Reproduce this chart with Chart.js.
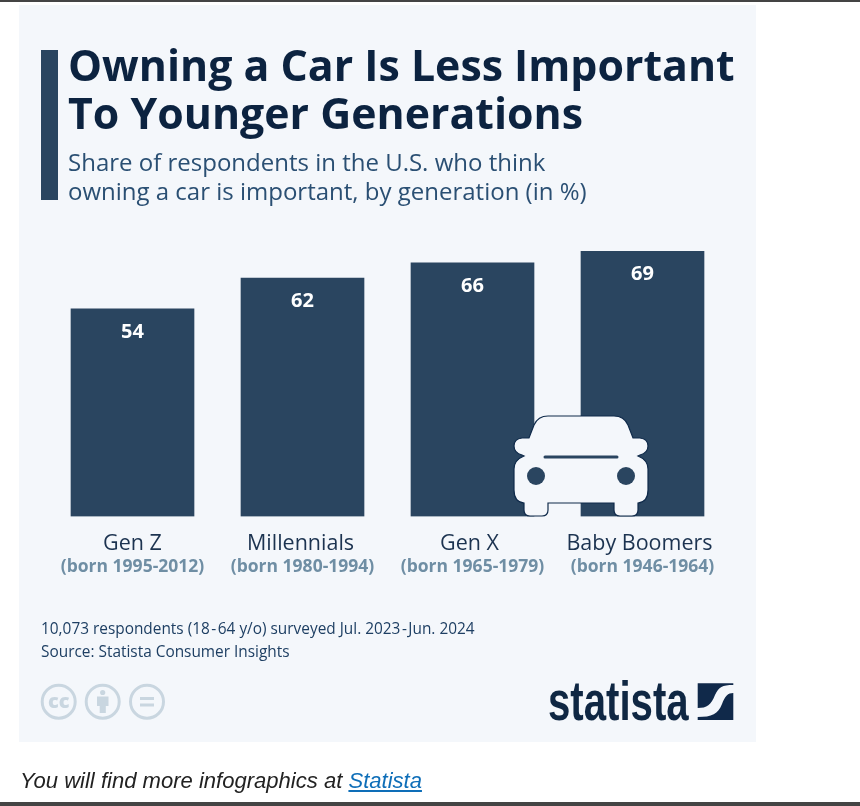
<!DOCTYPE html>
<html><head><meta charset="utf-8">
<script src="https://cdn.jsdelivr.net/npm/chart.js@4/dist/chart.umd.min.js"></script>
<style>
html,body{margin:0;padding:0;background:#fff;width:860px;height:806px;overflow:hidden}
.a{position:absolute;white-space:nowrap}
body{font-family:"Open Sans",sans-serif}
#topline{left:0;top:0;width:860px;height:2px;background:#444}
#botline{left:0;top:802px;width:860px;height:4px;background:#444}
#panel{left:19px;top:5px;width:737px;height:737px;background:#f4f7fb}
#chart{position:absolute;left:0;top:0}
#accent{left:41px;top:50px;width:17px;height:150px;background:#2a4560}
.t{left:68px;font-weight:700;font-size:42.85px;line-height:48px;color:#0c2340}
.s{left:68px;font-size:24px;line-height:29px;color:#2a4f73}
.n{left:41px;font-size:15.4px;line-height:23px;color:#1e3f63}
.n span{margin:0 1.5px}
#foot{left:20px;top:768px;font:italic 22.05px/26px "Liberation Sans",sans-serif;color:#222}
#foot a{color:#0e6eb8;text-decoration:underline}
#logo{left:548px;top:669px;font:700 55px/64px "Liberation Sans",sans-serif;color:#0f2743;transform:scaleX(.73);transform-origin:left top}
svg{position:absolute;left:0;top:0}
</style></head><body>
<div class="a" id="topline"></div>
<div class="a" id="panel"></div>
<canvas id="chart" width="860" height="806"></canvas>
<div class="a" id="accent"></div>
<div class="a t" style="top:41px">Owning a Car Is Less Important</div>
<div class="a t" style="top:89px">To Younger Generations</div>
<div class="a s" style="top:147px">Share of respondents in the U.S. who think</div>
<div class="a s" style="top:176px">owning a car is important, by generation (in %)</div>
<div class="a n" style="top:617px">10,073 respondents (18<span>-</span>64 y/o) surveyed Jul. 2023<span>-</span>Jun. 2024</div>
<div class="a n" style="top:640px">Source: Statista Consumer Insights</div>
<div class="a" id="logo">statista</div>
<svg width="860" height="806" viewBox="0 0 860 806">
  <path d="M548 416H614Q624 416 628 425L633 438H640Q648 439 648 446Q648 453 640 455L638 456Q648 460 648 469V490Q648 502 638 503V510Q638 516 632 516H620Q614 516 614 510V503H548V510Q548 516 542 516H530Q524 516 524 510V503Q514 502 514 490V469Q514 460 524 456L522 455Q514 453 514 446Q514 439 522 438H529L534 425Q538 416 548 416Z" fill="#f4f7fb" stroke="#0f2a4a" stroke-width="1.2"/>
  <line x1="545" y1="457" x2="617" y2="457" stroke="#2a4560" stroke-width="3" stroke-linecap="round"/>
  <circle cx="536" cy="476" r="9" fill="#2a4560"/><circle cx="626" cy="476" r="9" fill="#2a4560"/>
  <g fill="none" stroke="#c9d6e0" stroke-width="3">
    <circle cx="58.7" cy="701.7" r="16.5"/><circle cx="102.7" cy="701.7" r="16.5"/><circle cx="147" cy="701.7" r="16.5"/>
  </g>
  <text x="58.7" y="707.5" text-anchor="middle" font-family="Open Sans" font-weight="800" font-size="20" fill="#c9d6e0">cc</text>
  <circle cx="102.7" cy="692.5" r="2.6" fill="#c9d6e0"/>
  <path d="M97 696.5H108.5V706H105.8V713H99.7V706H97Z" fill="#c9d6e0"/>
  <rect x="140" y="697" width="14" height="3" fill="#c9d6e0"/><rect x="140" y="703.5" width="14" height="3" fill="#c9d6e0"/>
  <path d="M697.7 683.3H733.3V685C722 685 719 687 715 695C711 705 707 708 697.7 708Z" fill="#10294a"/>
  <path d="M733.3 693V720H697.7V717C712 717 718 714 722 704C725 696 728 693 733.3 693Z" fill="#10294a"/>
</svg>
<div class="a" id="foot">You will find more infographics at <a href="#">Statista</a></div>
<div class="a" id="botline"></div>
<script>
const generations = ["Gen Z", "Millennials", "Gen X", "Baby Boomers"];
const birthYears = ["(born 1995-2012)", "(born 1980-1994)", "(born 1965-1979)", "(born 1946-1964)"];
const shareImportant = [54, 62, 66, 69];

const valueLabels = {
  id: "valueLabels",
  afterDatasetsDraw(chart) {
    const { ctx } = chart;
    ctx.save();
    ctx.font = '700 20px "Open Sans"';
    ctx.fillStyle = "#ffffff";
    ctx.textAlign = "center";
    ctx.textBaseline = "middle";
    chart.getDatasetMeta(0).data.forEach((bar, i) => {
      ctx.fillText(String(shareImportant[i]), bar.x, bar.y + 23);
    });
    ctx.restore();
  }
};

new Chart(document.getElementById("chart"), {
  type: "bar",
  data: {
    labels: generations,
    datasets: [{ data: shareImportant, backgroundColor: "#2a4560", borderWidth: 0, barThickness: 123 }]
  },
  options: {
    responsive: false,
    animation: false,
    layout: { padding: { left: 47.5, right: 132.5, top: 209, bottom: 229 } },
    plugins: { legend: { display: false }, tooltip: { enabled: false }, title: { display: false } },
    scales: {
      y: { display: false, min: 0, max: 80 },
      x: {
        grid: { display: false, drawTicks: false }, border: { display: false },
        ticks: { color: "#1c3350", font: { family: "Open Sans", size: 21.5 }, padding: 14, maxRotation: 0, autoSkip: false },
        afterFit(s) { s.height = 38.5; }, weight: 1,
        afterUpdate(s) {
          const nudge = [0, 2, 3, 3];
          const base = Object.getPrototypeOf(s).getPixelForTick;
          s.getPixelForTick = function (i) { return base.call(this, i) - nudge[i]; };
        }
      },
      x2: {
        type: "category", labels: birthYears, position: "bottom",
        grid: { display: false, drawTicks: false }, border: { display: false },
        ticks: { color: "#6f8ea4", font: { family: "Open Sans", size: 17.5, weight: "700" }, padding: 2, maxRotation: 0, autoSkip: false },
        afterFit(s) { s.height = 22; }, weight: 2
      }
    }
  },
  plugins: [valueLabels]
});
</script>
</body></html>
